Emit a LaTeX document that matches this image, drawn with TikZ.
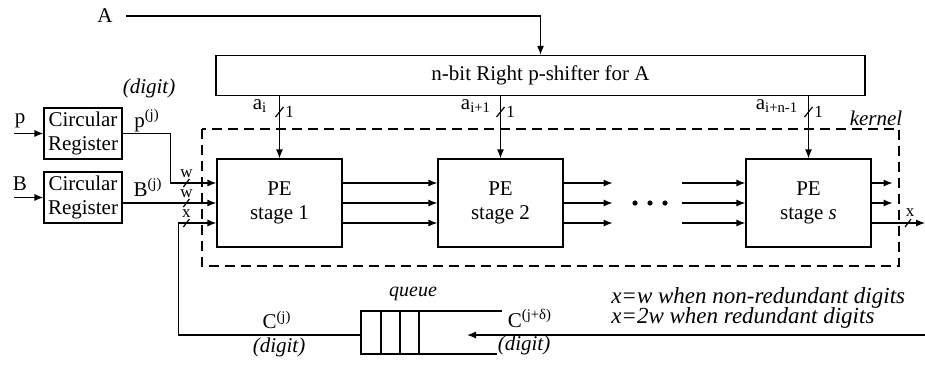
\documentclass[tikz,border=0pt]{standalone}
\usepackage{fontspec}
\setmainfont{Liberation Serif}
\usetikzlibrary{arrows.meta,calc}

\begin{document}
\begin{tikzpicture}[x=0.5pt, y=-0.5pt,
    font=\fontsize{10.5}{12}\selectfont,
    line width=0.6pt,
    arr/.style={-{Latex[length=4.5pt,width=3.5pt]}},
    regbox/.style={draw, align=center, minimum width=39pt, minimum height=25.5pt, inner sep=1pt},
    pebox/.style={draw, align=center, minimum width=62.5pt, minimum height=44pt},
    note/.style={font=\fontsize{10.5}{12}\selectfont\itshape},
    small/.style={font=\fontsize{8.5}{10}\selectfont}]
    \useasboundingbox (0,0) rectangle (925,364);
    % shifter, kernel and stages
    \node[draw, minimum width=324.5pt, minimum height=20pt] (shifter) at (540.5,75.5) {n-bit Right p-shifter for A};
    \draw[dash pattern=on 5pt off 3pt] (202,129) rectangle (899,266);
    \node[note] (kernlab) at (876,118) {kernel};
    \node[pebox] (pe1) at (279.5,203) {PE\\stage 1};
    \node[pebox] (pe2) at (500.5,203) {PE\\stage 2};
    \node[pebox] (pes) at (808.5,203) {PE\\stage \textit{s}};
    \node (A) at (105,16) {A};
    \draw[arr] ([xshift=3pt]A.east) -| (shifter.north);
    \coordinate (abus) at (0,112);
    \foreach \pe/\lab/\lx in {pe1/i/260, pe2/i+1/476, pes/i+n-1/777} {
        \draw[arr] (\pe.north |- shifter.south) -- (\pe.north);
        \draw ($(\pe.north |- abus)+(-4,5)$) -- ++(8,-10);
        \node (lab-\pe) at (\lx,106) {a\textsubscript{\lab}};
        \node[small] (one-\pe) at ($(\pe.north |- abus)+(10,0)$) {1};
    }
    % registers
    \node[regbox] (regp) at (83,133.5) {Circular\\Register};
    \node[regbox] (regB) at (83,197.5) {Circular\\Register};
    \node (p) at (20,121) {p};
    \node (B) at (20,184) {B};
    \coordinate (pin) at (14,133.5);
    \coordinate (Bin) at (14,197.5);
    \draw[arr] (pin) -- (regp);
    \draw[arr] (Bin) -- (regB);
    \draw[arr] (regp.east) -- ++(48,0) |- ($(pe1.west)+(0,-20)$);
    \draw[arr] (regB.east |- pe1.west) -- (pe1.west);
    \node[note] (pdig) at (149,88) {(digit)};
    \node (pj) at (147,121) {p\textsuperscript{(j)}};
    \node (Bj) at (148,187) {B\textsuperscript{(j)}};
    \foreach \dy/\lab [count=\k] in {-20/w, 0/w, 20/x} {
        \draw ($(pe1.west)+(-30,\dy)+(-3,4)$) -- ++(6,-8);
        \node[small] (bw\k) at ($(pe1.west)+(-30,\dy-9)$) {\lab};
    }
    % between stages
    \foreach \dy in {-20,0,20} {
        \draw[arr] ($(pe1.east)+(0,\dy)$) -- ($(pe2.west)+(0,\dy)$);
        \draw[arr] ($(pe2.east)+(0,\dy)$) -- ++(49,0);
        \draw[arr] ($(pes.west)+(-63,\dy)$) -- ($(pes.west)+(0,\dy)$);
    }
    \foreach \x in {635,650,665}
        \fill (\x,203) circle (1.3pt);
    \foreach \dy in {-20,0}
        \draw[arr] ($(pes.east)+(0,\dy)$) -- ++(21,0);
    \coordinate (xout) at (925,223);
    \draw[arr] ($(pes.east)+(0,20)$) -- (xout);
    \draw (905,227) -- ++(6,-8);
    \node[small] (xlab) at (910,213) {x};
    % queue and feedback
    \coordinate (qin) at (361,335);
    \coordinate (cin) at (925,335);
    \coordinate (qhead) at (467,335);
    \draw[line width=1.2pt] (502,311) -- (361,311) -- (361,354) -- (497,354);
    \foreach \x in {381,400,419}
        \draw (\x,311) -- (\x,354);
    \node[small, font=\itshape] (qlab) at (413,294) {queue};
    \draw[arr] (cin) -- (qhead);
    \draw[arr] (qin) -| ($(pe1.west)+(-38,20)$) -- ($(pe1.west)+(0,20)$);
    \node (cj) at (277,320) {C\textsuperscript{(j)}};
    \node[note] (cjdig) at (279,347) {(digit)};
    \node (cjd) at (530,318) {C\textsuperscript{(j+δ)}};
    \node[note] (cjddig) at (524,345) {(digit)};
    \node[note, anchor=west, font=\fontsize{11.5}{13}\selectfont\itshape] (note1) at (604,298) {x=w when non-redundant digits};
    \node[note, anchor=west, font=\fontsize{11.5}{13}\selectfont\itshape] (note2) at (604,318) {x=2w when redundant digits};
\end{tikzpicture}
\end{document}
